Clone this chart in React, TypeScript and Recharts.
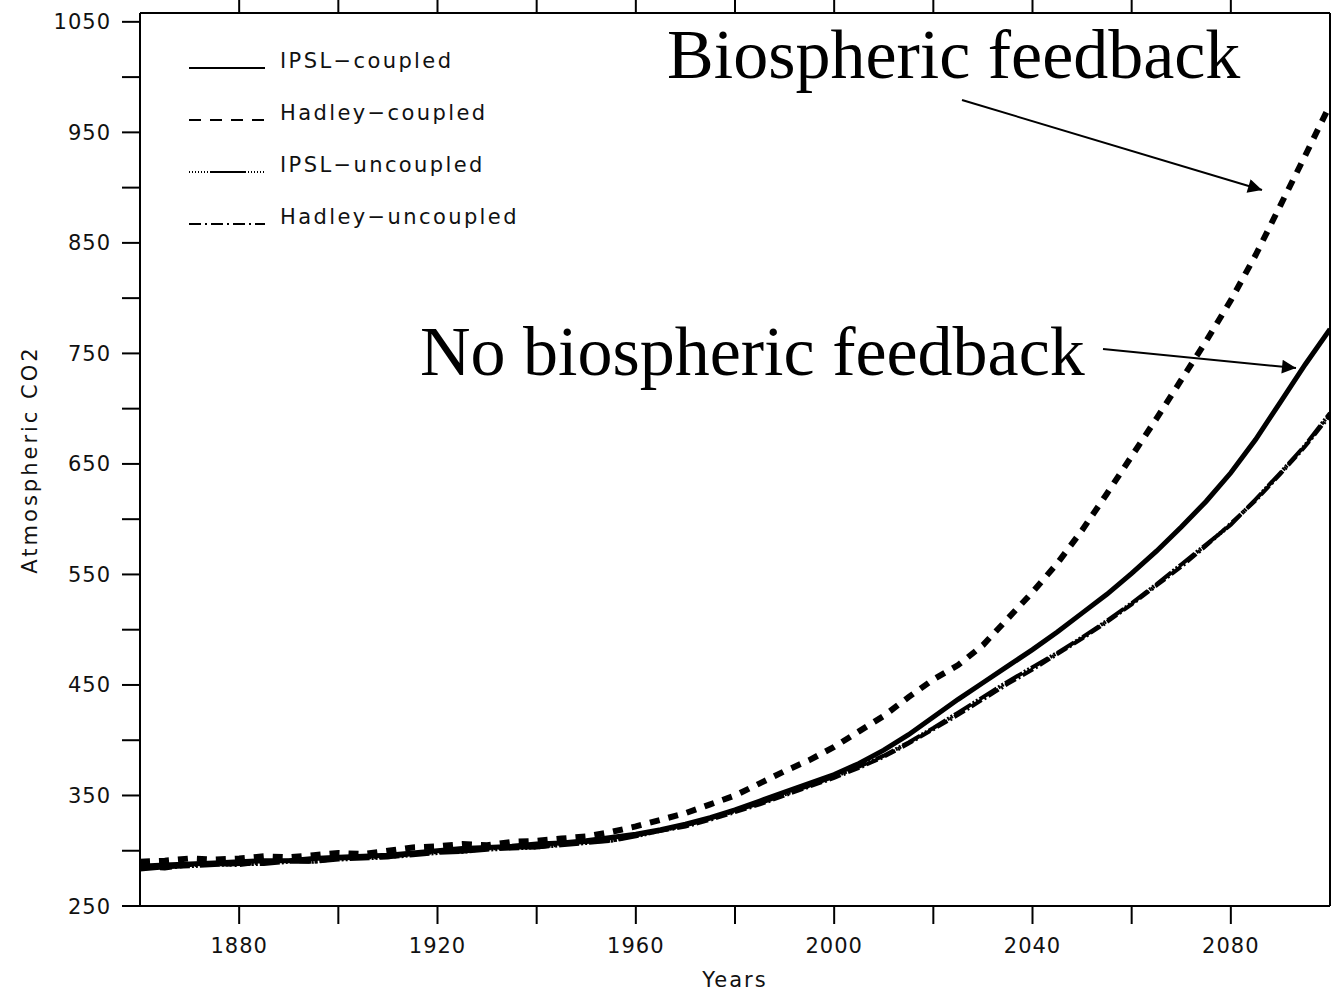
import React from 'react';
import { LineChart, Line, XAxis, YAxis, Legend, Label } from 'recharts';

const years = [
  1860, 1865, 1870, 1875, 1880, 1885, 1890, 1895, 1900, 1905, 1910, 1915, 1920, 1925, 1930, 1935, 1940,
  1945, 1950, 1955, 1960, 1965, 1970, 1975, 1980, 1985, 1990, 1995, 2000, 2005, 2010, 2015, 2020, 2025,
  2030, 2035, 2040, 2045, 2050, 2055, 2060, 2065, 2070, 2075, 2080, 2085, 2090, 2095, 2100,
];

const ipslCoupled = [
  286, 287, 288, 289, 290, 291, 291, 293, 294, 295, 296, 298, 300, 302, 303, 304, 306,
  307, 309, 312, 315, 319, 324, 330, 337, 345, 353, 361, 369, 379, 391, 405, 421, 437,
  452, 467, 482, 498, 515, 532, 551, 571, 593, 616, 642, 672, 706, 740, 772,
];

const hadleyCoupled = [
  290, 291, 293, 292, 293, 295, 294, 296, 298, 297, 300, 303, 304, 306, 305, 308, 309,
  311, 313, 317, 322, 328, 334, 342, 350, 361, 372, 382, 394, 408, 422, 439, 455, 468,
  486, 510, 534, 560, 590, 623, 657, 691, 726, 761, 798, 839, 884, 929, 975,
];

const ipslUncoupled = [
  283, 285, 286, 287, 288, 288, 290, 290, 292, 293, 294, 296, 298, 299, 301, 302, 303,
  305, 307, 309, 313, 318, 323, 329, 336, 343, 351, 359, 367, 376, 386, 398, 411, 425,
  439, 453, 466, 479, 493, 508, 524, 541, 559, 577, 595, 618, 642, 667, 696,
];

const hadleyUncoupled = [
  285, 284, 287, 288, 287, 290, 291, 290, 293, 294, 294, 297, 299, 299, 302, 303, 303,
  306, 308, 309, 314, 318, 322, 328, 335, 342, 350, 358, 366, 375, 385, 397, 410, 423,
  437, 451, 464, 478, 492, 507, 523, 540, 557, 576, 596, 617, 641, 666, 694,
];

const xTicks = [1880, 1900, 1920, 1940, 1960, 1980, 2000, 2020, 2040, 2060, 2080];
const yTicks = [250, 300, 350, 400, 450, 500, 550, 600, 650, 700, 750, 800, 850, 900, 950, 1000, 1050];

const seriesNames = ['IPSL\u2212coupled', 'Hadley\u2212coupled', 'IPSL\u2212uncoupled', 'Hadley\u2212uncoupled'];

const data = years.map((year, i) => ({
  year,
  ipslC: ipslCoupled[i],
  hadC: hadleyCoupled[i],
  ipslU: ipslUncoupled[i],
  hadU: hadleyUncoupled[i],
}));

const sansFont = {
  fontFamily: '"DejaVu Sans", sans-serif',
  fontSize: 21,
  letterSpacing: 1,
  fill: '#111',
};

const XTick = (props: any) => {
  const { x, y, payload } = props;
  const v = payload.value;
  if ((v - 1880) % 40 !== 0) return <g />;
  return (
    <text x={x} y={y + 27} textAnchor="middle" style={sansFont}>
      {v}
    </text>
  );
};

const YTick = (props: any) => {
  const { x, y, payload } = props;
  const v = payload.value;
  if ((v - 250) % 100 !== 0) return <g />;
  return (
    <text x={x - 9} y={y + 7.5} textAnchor="end" style={sansFont}>
      {v}
    </text>
  );
};

const NoTick = () => <g />;

const renderLegend = () => {
  const rowY = [28, 80, 132, 184];
  const textStyle = { ...sansFont, letterSpacing: 2.4 };
  return (
    <svg width={360} height={200} style={{ display: 'block' }}>
      <line x1={0} x2={76} y1={rowY[0]} y2={rowY[0]} stroke="#000" strokeWidth={2} />
      <line x1={0} x2={76} y1={rowY[1]} y2={rowY[1]} stroke="#000" strokeWidth={2} strokeDasharray="12 9" />
      <line x1={0} x2={22} y1={rowY[2]} y2={rowY[2]} stroke="#000" strokeWidth={2} strokeDasharray="1 2" />
      <line x1={22} x2={56} y1={rowY[2]} y2={rowY[2]} stroke="#000" strokeWidth={2} />
      <line x1={56} x2={76} y1={rowY[2]} y2={rowY[2]} stroke="#000" strokeWidth={2} strokeDasharray="1 2" />
      <line x1={0} x2={76} y1={rowY[3]} y2={rowY[3]} stroke="#000" strokeWidth={2} strokeDasharray="12 4 2 4" />
      {seriesNames.map((n, i) => (
        <text key={n} x={91} y={rowY[i]} style={textStyle}>
          {n}
        </text>
      ))}
    </svg>
  );
};

const YLabel = (props: any) => {
  const vb = props.viewBox || { x: 0, y: 13, width: 140, height: 893 };
  const cx = 30;
  const cy = vb.y + vb.height / 2;
  return (
    <text
      x={cx}
      y={cy}
      transform={`rotate(-90 ${cx} ${cy})`}
      textAnchor="middle"
      dominantBaseline="central"
      style={{ ...sansFont, letterSpacing: 3 }}
    >
      Atmospheric CO2
    </text>
  );
};

const XLabel = (props: any) => {
  const vb = props.viewBox || { x: 140, y: 906, width: 1190, height: 70 };
  const cx = vb.x + vb.width / 2;
  return (
    <text x={cx} y={987} textAnchor="middle" style={{ ...sansFont, letterSpacing: 2 }}>
      Years
    </text>
  );
};

const serif = { fontFamily: '"Liberation Serif", "Times New Roman", serif', fontSize: 70, fill: '#000' };

export default function App() {
  return (
    <div style={{ position: 'absolute', left: 0, top: 0, width: 1331, height: 991, background: '#fff', overflow: 'hidden' }}>
      <LineChart width={1331} height={991} data={data} margin={{ top: 0, right: 0, bottom: 15, left: 0 }}>
        <XAxis
          xAxisId="bottom"
          dataKey="year"
          type="number"
          domain={[1860, 2100]}
          ticks={xTicks}
          allowDataOverflow
          height={70}
          tickSize={18}
          tick={XTick}
          axisLine={{ stroke: '#000', strokeWidth: 2 }}
          tickLine={{ stroke: '#000', strokeWidth: 2 }}
        >
          <Label content={XLabel} />
        </XAxis>
        <XAxis
          xAxisId="top"
          orientation="top"
          dataKey="year"
          type="number"
          domain={[1860, 2100]}
          ticks={xTicks}
          allowDataOverflow
          height={13}
          tickSize={14}
          tick={NoTick}
          axisLine={{ stroke: '#000', strokeWidth: 2 }}
          tickLine={{ stroke: '#000', strokeWidth: 2 }}
        />
        <YAxis
          yAxisId="left"
          type="number"
          domain={[250, 1058]}
          ticks={yTicks}
          allowDataOverflow
          width={140}
          tickSize={18}
          tick={YTick}
          axisLine={{ stroke: '#000', strokeWidth: 2 }}
          tickLine={{ stroke: '#000', strokeWidth: 2 }}
        >
          <Label content={YLabel} />
        </YAxis>
        <YAxis
          yAxisId="right"
          orientation="right"
          type="number"
          domain={[250, 1058]}
          ticks={yTicks}
          allowDataOverflow
          width={1}
          tick={NoTick}
          tickLine={false}
          axisLine={{ stroke: '#000', strokeWidth: 2 }}
        />
        <Legend
          content={renderLegend}
          layout="vertical"
          align="center"
          verticalAlign="middle"
          wrapperStyle={{ position: 'absolute', left: 189, top: 40, width: 360, height: 200 }}
        />
        <Line
          xAxisId="bottom"
          yAxisId="left"
          type="linear"
          dataKey="hadU"
          name={seriesNames[3]}
          stroke="#000"
          strokeWidth={4}
          strokeDasharray="12 3 2 3"
          dot={false}
          isAnimationActive={false}
        />
        <Line
          xAxisId="bottom"
          yAxisId="left"
          type="linear"
          dataKey="ipslU"
          name={seriesNames[2]}
          stroke="#000"
          strokeWidth={4}
          strokeDasharray="20 2 2 2 2 2"
          dot={false}
          isAnimationActive={false}
        />
        <Line
          xAxisId="bottom"
          yAxisId="left"
          type="linear"
          dataKey="ipslC"
          name={seriesNames[0]}
          stroke="#000"
          strokeWidth={5}
          dot={false}
          isAnimationActive={false}
        />
        <Line
          xAxisId="bottom"
          yAxisId="left"
          type="linear"
          dataKey="hadC"
          name={seriesNames[1]}
          stroke="#000"
          strokeWidth={6}
          strokeDasharray="10 9"
          dot={false}
          isAnimationActive={false}
        />
      </LineChart>
      <svg
        width={1331}
        height={991}
        style={{ position: 'absolute', left: 0, top: 0, pointerEvents: 'none' }}
      >
        <defs>
          <marker id="arrowHead" viewBox="0 0 10 10" refX="10" refY="5" markerWidth="20" markerHeight="14" markerUnits="userSpaceOnUse" orient="auto">
            <path d="M0,0 L10,5 L0,10 z" fill="#000" />
          </marker>
        </defs>
        <text x={667} y={78} style={serif}>
          Biospheric feedback
        </text>
        <text x={420} y={375} style={serif}>
          No biospheric feedback
        </text>
        <line x1={962} y1={100} x2={1262} y2={190} stroke="#000" strokeWidth={2} markerEnd="url(#arrowHead)" />
        <line x1={1103} y1={349} x2={1296} y2={368} stroke="#000" strokeWidth={2} markerEnd="url(#arrowHead)" />
      </svg>
    </div>
  );
}
